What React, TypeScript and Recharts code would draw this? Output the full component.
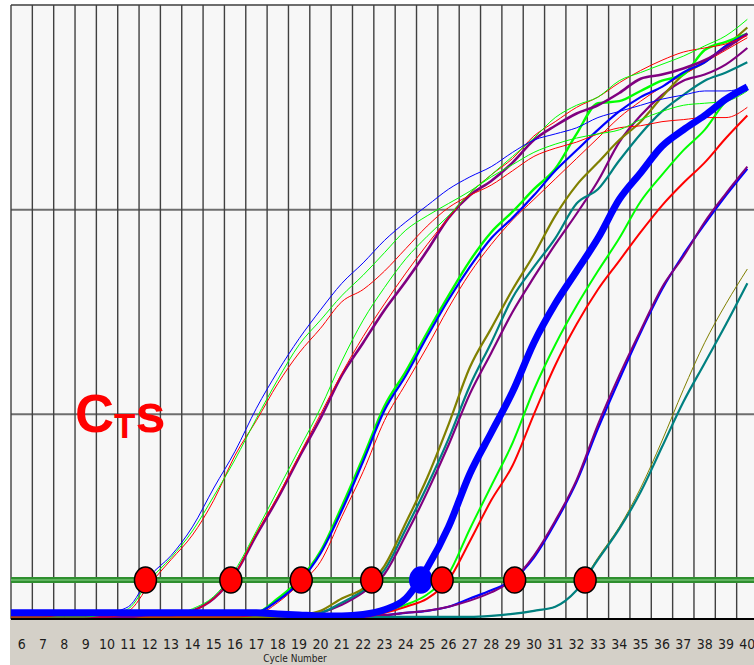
import React from 'react'
import { ComposedChart, Line, XAxis, YAxis, CartesianGrid, ReferenceLine, ReferenceDot } from 'recharts'

// cycle numbers (5 is the clipped lead-in before the first labelled cycle)
const cycles = [5, 6, 7, 8, 9, 10, 11, 12, 13, 14, 15, 16, 17, 18, 19, 20, 21, 22, 23, 24, 25, 26, 27, 28, 29, 30, 31, 32, 33, 34, 35, 36, 37, 38, 39, 40]
const tickCycles = [6, 7, 8, 9, 10, 11, 12, 13, 14, 15, 16, 17, 18, 19, 20, 21, 22, 23, 24, 25, 26, 27, 28, 29, 30, 31, 32, 33, 34, 35, 36, 37, 38, 39, 40]
const yTicks = [0, 1, 2, 3]

// fluorescence per cycle, one array per well
const aBlue = [0.02, 0.02, 0.02, 0.02, 0.02, 0.03, 0.06, 0.21, 0.31, 0.45, 0.64, 0.82, 1.03, 1.21, 1.37, 1.51, 1.64, 1.74, 1.85, 1.94, 2.02, 2.10, 2.16, 2.21, 2.28, 2.34, 2.37, 2.40, 2.45, 2.48, 2.51, 2.54, 2.56, 2.58, 2.58, 2.60]
const aGreen = [0.02, 0.02, 0.02, 0.02, 0.02, 0.02, 0.05, 0.19, 0.30, 0.43, 0.60, 0.78, 0.98, 1.17, 1.34, 1.46, 1.58, 1.68, 1.79, 1.90, 1.97, 2.03, 2.09, 2.16, 2.22, 2.28, 2.32, 2.35, 2.37, 2.39, 2.44, 2.48, 2.51, 2.52, 2.53, 2.58]
const aRed = [0.01, 0.01, 0.01, 0.02, 0.02, 0.02, 0.04, 0.17, 0.29, 0.41, 0.58, 0.80, 0.97, 1.15, 1.30, 1.42, 1.55, 1.61, 1.70, 1.81, 1.92, 2.01, 2.07, 2.12, 2.19, 2.26, 2.30, 2.33, 2.37, 2.40, 2.41, 2.43, 2.44, 2.45, 2.45, 2.50]
const bGreen = [0.01, 0.01, 0.01, 0.01, 0.01, 0.02, 0.02, 0.02, 0.02, 0.05, 0.11, 0.24, 0.43, 0.63, 0.83, 1.03, 1.26, 1.46, 1.62, 1.76, 1.87, 1.97, 2.08, 2.17, 2.26, 2.35, 2.45, 2.51, 2.55, 2.63, 2.67, 2.71, 2.75, 2.80, 2.85, 2.93]
const bRed = [0.01, 0.01, 0.01, 0.01, 0.01, 0.01, 0.02, 0.02, 0.02, 0.04, 0.10, 0.22, 0.42, 0.60, 0.80, 1.00, 1.20, 1.38, 1.54, 1.69, 1.83, 1.96, 2.08, 2.17, 2.25, 2.36, 2.43, 2.50, 2.55, 2.62, 2.68, 2.73, 2.77, 2.79, 2.81, 2.85]
const bPurple = [0.01, 0.01, 0.01, 0.01, 0.01, 0.01, 0.01, 0.02, 0.02, 0.04, 0.10, 0.22, 0.41, 0.59, 0.79, 0.98, 1.19, 1.35, 1.51, 1.65, 1.80, 1.96, 2.07, 2.14, 2.23, 2.34, 2.41, 2.47, 2.51, 2.57, 2.64, 2.66, 2.69, 2.73, 2.79, 2.86]
const cBlue = [0.02, 0.02, 0.02, 0.02, 0.02, 0.02, 0.02, 0.02, 0.02, 0.02, 0.02, 0.02, 0.03, 0.09, 0.18, 0.32, 0.53, 0.77, 1.02, 1.19, 1.38, 1.56, 1.72, 1.86, 1.96, 2.07, 2.19, 2.29, 2.39, 2.48, 2.55, 2.60, 2.67, 2.72, 2.80, 2.86]
const cGreen = [0.02, 0.02, 0.02, 0.02, 0.02, 0.02, 0.02, 0.02, 0.02, 0.02, 0.02, 0.02, 0.03, 0.10, 0.19, 0.33, 0.55, 0.79, 1.04, 1.21, 1.40, 1.58, 1.75, 1.89, 1.99, 2.10, 2.20, 2.37, 2.52, 2.53, 2.58, 2.63, 2.66, 2.78, 2.82, 2.86]
const cRed = [0.01, 0.01, 0.01, 0.01, 0.01, 0.01, 0.01, 0.01, 0.01, 0.01, 0.01, 0.01, 0.02, 0.08, 0.17, 0.28, 0.50, 0.72, 0.97, 1.15, 1.33, 1.52, 1.69, 1.83, 1.95, 2.05, 2.15, 2.25, 2.35, 2.45, 2.53, 2.60, 2.66, 2.72, 2.78, 2.84]
const dOlive = [0.01, 0.01, 0.01, 0.01, 0.01, 0.01, 0.01, 0.01, 0.01, 0.01, 0.01, 0.01, 0.01, 0.01, 0.02, 0.04, 0.10, 0.15, 0.26, 0.47, 0.69, 0.95, 1.23, 1.42, 1.61, 1.78, 1.97, 2.12, 2.23, 2.34, 2.43, 2.55, 2.66, 2.72, 2.80, 2.89]
const dTeal = [0.01, 0.01, 0.01, 0.01, 0.01, 0.01, 0.01, 0.01, 0.01, 0.01, 0.01, 0.01, 0.01, 0.01, 0.02, 0.03, 0.08, 0.14, 0.24, 0.44, 0.65, 0.88, 1.14, 1.35, 1.57, 1.72, 1.86, 2.03, 2.10, 2.24, 2.37, 2.48, 2.56, 2.63, 2.67, 2.72]
const dPurple = [0.01, 0.01, 0.01, 0.01, 0.01, 0.01, 0.01, 0.01, 0.01, 0.01, 0.01, 0.01, 0.01, 0.01, 0.01, 0.03, 0.07, 0.13, 0.22, 0.41, 0.62, 0.85, 1.10, 1.30, 1.50, 1.67, 1.83, 1.98, 2.14, 2.33, 2.46, 2.56, 2.63, 2.66, 2.71, 2.79]
const eBlue = [0.03, 0.03, 0.03, 0.03, 0.03, 0.03, 0.03, 0.03, 0.03, 0.03, 0.03, 0.03, 0.03, 0.025, 0.02, 0.015, 0.015, 0.022, 0.045, 0.10, 0.25, 0.45, 0.71, 0.91, 1.11, 1.35, 1.54, 1.70, 1.86, 2.05, 2.18, 2.31, 2.39, 2.46, 2.54, 2.60]
const fGreen = [0.01, 0.01, 0.02, 0.02, 0.01, 0.01, 0.02, 0.02, 0.01, 0.01, 0.02, 0.02, 0.01, 0.01, 0.02, 0.02, 0.02, 0.02, 0.04, 0.07, 0.12, 0.22, 0.44, 0.65, 0.86, 1.12, 1.34, 1.53, 1.70, 1.86, 2.04, 2.17, 2.29, 2.39, 2.53, 2.60]
const fRed = [0.01, 0.01, 0.01, 0.01, 0.01, 0.01, 0.01, 0.01, 0.01, 0.01, 0.01, 0.01, 0.01, 0.01, 0.01, 0.01, 0.01, 0.01, 0.03, 0.06, 0.10, 0.19, 0.38, 0.58, 0.75, 1.00, 1.24, 1.44, 1.61, 1.75, 1.89, 2.02, 2.13, 2.23, 2.35, 2.46]
const gPurple = [0.02, 0.02, 0.02, 0.02, 0.02, 0.02, 0.02, 0.02, 0.02, 0.02, 0.02, 0.02, 0.02, 0.02, 0.02, 0.02, 0.02, 0.02, 0.02, 0.03, 0.04, 0.06, 0.09, 0.13, 0.19, 0.31, 0.48, 0.68, 0.95, 1.19, 1.41, 1.62, 1.77, 1.94, 2.08, 2.21]
const gBlue = [0.02, 0.02, 0.02, 0.02, 0.02, 0.02, 0.02, 0.02, 0.02, 0.02, 0.02, 0.02, 0.02, 0.02, 0.02, 0.02, 0.02, 0.02, 0.02, 0.03, 0.04, 0.06, 0.10, 0.14, 0.19, 0.30, 0.47, 0.67, 0.93, 1.17, 1.40, 1.61, 1.78, 1.93, 2.07, 2.20]
const hTeal = [0.01, 0.01, 0.01, 0.01, 0.01, 0.01, 0.01, 0.01, 0.01, 0.01, 0.01, 0.01, 0.01, 0.01, 0.01, 0.01, 0.01, 0.01, 0.01, 0.01, 0.01, 0.01, 0.01, 0.015, 0.025, 0.04, 0.06, 0.14, 0.29, 0.44, 0.62, 0.84, 1.06, 1.25, 1.44, 1.64]
const hOlive = [0.01, 0.01, 0.01, 0.01, 0.01, 0.01, 0.01, 0.01, 0.01, 0.01, 0.01, 0.01, 0.01, 0.01, 0.01, 0.01, 0.01, 0.01, 0.01, 0.01, 0.01, 0.01, 0.01, 0.015, 0.025, 0.04, 0.06, 0.14, 0.30, 0.45, 0.64, 0.87, 1.12, 1.35, 1.54, 1.71]

const threshold = 0.19
const ctValues = [11.8, 15.8, 19.1, 22.4, 24.7, 25.7, 29.1, 32.4]
const highlightedCt = 24.7

const series = [
  { key: 'hOlive', values: hOlive, color: '#808000', width: 1 },
  { key: 'hTeal', values: hTeal, color: '#008080', width: 2.2 },
  { key: 'gBlue', values: gBlue, color: '#0000ff', width: 2.2 },
  { key: 'gPurple', values: gPurple, color: '#800080', width: 2 },
  { key: 'fRed', values: fRed, color: '#ff0000', width: 2 },
  { key: 'fGreen', values: fGreen, color: '#00ff00', width: 2 },
  { key: 'dPurple', values: dPurple, color: '#800080', width: 2.2 },
  { key: 'dTeal', values: dTeal, color: '#008080', width: 2.2 },
  { key: 'dOlive', values: dOlive, color: '#808000', width: 2.2 },
  { key: 'cRed', values: cRed, color: '#ff0000', width: 1 },
  { key: 'cGreen', values: cGreen, color: '#00ff00', width: 2.4 },
  { key: 'cBlue', values: cBlue, color: '#0000ff', width: 2.2 },
  { key: 'bPurple', values: bPurple, color: '#800080', width: 2.6 },
  { key: 'bRed', values: bRed, color: '#ff0000', width: 1 },
  { key: 'bGreen', values: bGreen, color: '#00ff00', width: 1 },
  { key: 'aRed', values: aRed, color: '#ff0000', width: 1 },
  { key: 'aGreen', values: aGreen, color: '#00ff00', width: 1 },
  { key: 'aBlue', values: aBlue, color: '#0000ff', width: 1 },
  { key: 'eBlue', values: eBlue, color: '#0000ff', width: 7 },
]

const rows = cycles.map((cycle, i) => {
  const row: Record<string, number> = { cycle }
  series.forEach((s) => {
    row[s.key] = s.values[i]
  })
  return row
})

// vertical grid lines sit between cycles
const boundaries = cycles.map((c) => c + 0.5)

const narrow = '"Liberation Sans Narrow", "DejaVu Sans Condensed", "Liberation Sans", sans-serif'

function CycleTick(props: any) {
  const { x, y, payload } = props
  return (
    <text x={x} y={y + 30} textAnchor="middle" fontSize={14} fill="#1c1c1c" fontFamily={narrow}>
      {payload.value}
    </text>
  )
}

function CtMarker(props: any) {
  return (
    <ellipse
      cx={props.cx}
      cy={props.cy}
      rx={11}
      ry={13}
      fill={props.fill}
      stroke={props.stroke}
      strokeWidth={1.5}
    />
  )
}

export default function App() {
  return (
    <div style={{ position: 'absolute', left: 0, top: 0, width: 754, height: 665, overflow: 'hidden', background: '#fff' }}>
      <div style={{ position: 'absolute', left: 10, top: 619, width: 744, height: 46, background: '#d4d0c8' }} />
      <div style={{ position: 'absolute', left: 0, top: 0 }}>
        <ComposedChart width={760} height={665} data={rows} margin={{ top: 5, right: 2, bottom: 0, left: 11 }}>
          <CartesianGrid vertical={false} stroke="#6e6e6e" strokeWidth={2} fill="#f7f7f7" fillOpacity={1} />
          <XAxis
            dataKey="cycle"
            type="number"
            domain={[5.5, 40.5]}
            ticks={tickCycles}
            allowDataOverflow
            interval={0}
            height={46}
            tickLine={false}
            tickSize={0}
            tickMargin={0}
            axisLine={{ stroke: '#000', strokeWidth: 2 }}
            tick={<CycleTick />}
          />
          <YAxis hide domain={[0, 3]} ticks={yTicks} allowDataOverflow />
          {boundaries.map((b) => (
            <ReferenceLine key={'v' + b} x={b} stroke="#404040" strokeWidth={1.4} />
          ))}
          <ReferenceLine y={threshold} stroke="#2f8f2f" strokeWidth={6} />
          <ReferenceLine y={threshold} stroke="#5fb35f" strokeWidth={2} />
          {series.map((s) => (
            <Line
              key={s.key}
              dataKey={s.key}
              type="monotone"
              stroke={s.color}
              strokeWidth={s.width}
              dot={false}
              activeDot={false}
              isAnimationActive={false}
            />
          ))}
          {ctValues.map((ct) => (
            <ReferenceDot
              key={'ct' + ct}
              x={ct}
              y={threshold}
              fill={ct === highlightedCt ? '#0000ff' : '#ff0000'}
              stroke={ct === highlightedCt ? '#0000ff' : '#000'}
              shape={CtMarker}
              ifOverflow="visible"
            />
          ))}
        </ComposedChart>
      </div>
      <svg width={754} height={665} style={{ position: 'absolute', left: 0, top: 0, pointerEvents: 'none' }}>
        <text x={75} y={432} fill="#ff0000" fontWeight="bold" fontSize={54} fontFamily='"Liberation Sans", Arial, sans-serif'>
          C
          <tspan fontSize={35} dy={6}>T</tspan>
          <tspan dy={-6}>s</tspan>
        </text>
        <text x={295} y={662} textAnchor="middle" fontSize={10} fill="#1c1c1c" fontFamily={narrow}>
          Cycle Number
        </text>
      </svg>
    </div>
  )
}
